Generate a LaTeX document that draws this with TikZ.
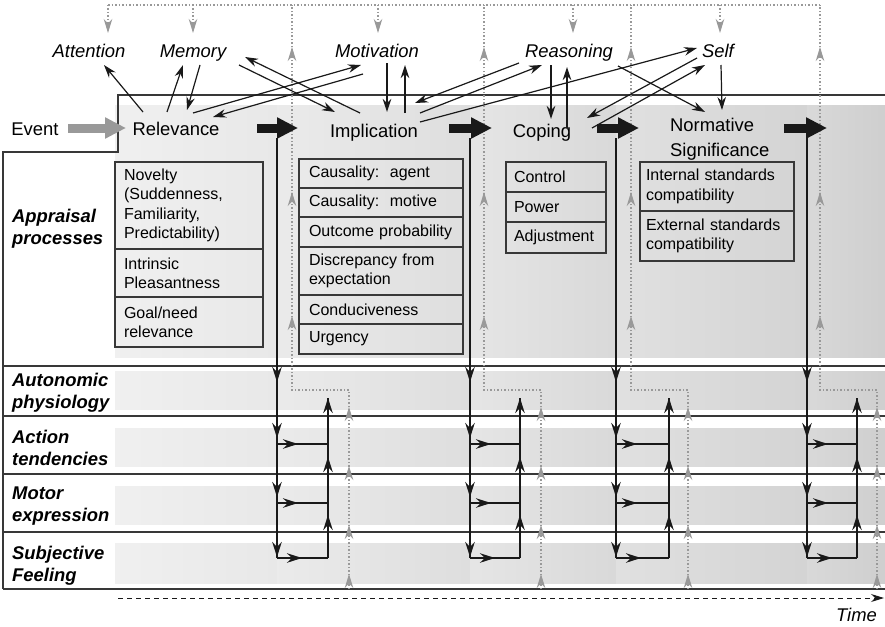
\documentclass[tikz,border=0pt]{standalone}
\usepackage{fontspec}
\setmainfont{Liberation Sans}
\usepackage{tikz}
\usetikzlibrary{arrows.meta, calc, positioning, decorations.markings}
\definecolor{ink}{gray}{0.10}
\definecolor{framec}{gray}{0.22}
\definecolor{fback}{gray}{0.60}
\newcommand\bigfont{\fontsize{18.4}{21.8}\selectfont}
\newcommand\itemfont{\fontsize{16}{19.3}\selectfont}
% shaded strip behind one row, darker phase by phase
\newcommand\greyband[2]{%
  \shade[left color=black!6,  right color=black!9]  (115,#1) rectangle (277,#2);
  \shade[left color=black!8,  right color=black!13] (277,#1) rectangle (470,#2);
  \shade[left color=black!10, right color=black!15] (470,#1) rectangle (616,#2);
  \shade[left color=black!12, right color=black!17] (616,#1) rectangle (807,#2);
  \shade[left color=black!15, right color=black!19] (807,#1) rectangle (885,#2);}
% efferent and feedback wiring below one phase
\newcommand\reaction[4]{%
  \coordinate (#1in)   at (#2,138);
  \coordinate (#1act)  at (#2,444);
  \coordinate (#1mot)  at (#2,503);
  \coordinate (#1sub)  at (#2,558);
  \coordinate (#1ret)  at (#3,398);
  \coordinate (#1ra)   at (#3,444);
  \coordinate (#1rm)   at (#3,503);
  \coordinate (#1rs)   at (#3,558);
  \coordinate (#1fb)   at (#4+57,589);
  \coordinate (#1kn)   at (#4+57,390);
  \coordinate (#1kt)   at (#4,390);
  \coordinate (#1roof) at (#4,5);
  \draw[wire, tipat=244pt, tipat=300pt, tipat=359pt, tipat=419pt] (#1in) -- (#1sub);
  \draw[wire, tipat=43pt, tipat=101pt, tipat=160pt] (#1rs) -- (#1ret);
  \draw[wire, tipat=21pt] (#1act) -- (#1ra);
  \draw[wire, tipat=21pt] (#1mot) -- (#1rm);
  \draw[wire, tipat=25pt] (#1sub) -- (#1rs);
  \draw[feedback, gtipat=15pt, gtipat=64pt, gtipat=123pt, gtipat=182pt,
        gtipat=330pt, gtipat=454pt, gtipat=599pt]
    (#1fb) -- (#1kn) -- (#1kt) -- (#1roof);}
\tikzset{
  wiretip/.tip={Stealth[length=15pt, width=9.5pt]},
  greytip/.tip={Stealth[length=14pt, width=8.5pt]},
  wire/.style={draw=ink, line width=1.5pt},
  feedback/.style={draw=fback, line width=1.2pt, dash pattern=on 1.5pt off 2pt},
  tipat/.style={postaction={decorate, decoration={markings,
    mark=at position #1 with {\arrow{wiretip}}}}},
  gtipat/.style={postaction={decorate, decoration={markings,
    mark=at position #1 with {\arrow{greytip}}}}},
  framel/.style={draw=framec, line width=1.3pt},
  link/.style={draw=ink, line width=1.2pt, -{Stealth[length=13pt, width=8.5pt]}},
  phase/.style={draw=ink, line width=9pt, -{Triangle[length=21pt, width=20pt]}},
  label/.style={inner sep=0pt, anchor=base, font=\bigfont},
  toplbl/.style={label, font=\bigfont\itshape},
  rowlbl/.style={inner sep=0pt, anchor=north west, align=left,
    font=\bigfont\bfseries\itshape},
  item/.style={draw=framec, line width=1.2pt, outer sep=0pt, inner xsep=#1,
    inner ysep=0pt, align=left, font=\itemfont},
  relbox/.style={item=9pt, text width=130pt},
  impbox/.style={item=10pt, text width=144pt},
  copbox/.style={item=8pt, text width=84pt},
  nrmbox/.style={item=6pt, text width=142pt},
}
\begin{document}
\begin{tikzpicture}[x=1pt, y=-1pt]
\useasboundingbox (0,0) rectangle (885,626);
\fill[white] (0,0) rectangle (885,626);
% shaded rows
\greyband{105}{357}
\greyband{371}{409}
\greyband{428}{466}
\greyband{486}{524}
\greyband{543}{583}
% frame and row rules
\draw[framel] (3,589) -- (3,152) -- (118,152) -- (118,95) -- (885,95);
\draw[framel] (3,366) -- (885,366);
\draw[framel] (3,416) -- (885,416);
\draw[framel] (3,474) -- (885,474);
\draw[framel] (3,532) -- (885,532);
\draw[framel] (3,589) -- (885,589);
% row labels
\node[rowlbl] (app) at (12,209) {Appraisal\\processes};
\node[rowlbl] (aut) at (12,373) {Autonomic\\physiology};
\node[rowlbl] (act) at (12,430) {Action\\tendencies};
\node[rowlbl] (mot) at (12,487) {Motor\\expression};
\node[rowlbl] (sub) at (12,546) {Subjective\\Feeling};
% phases
\node[label] (event) at (35,135) {Event};
\node[label] (rel) at (176,135) {Relevance};
\node[label] (impl) at (374,137) {Implication};
\node[label] (cop) at (542,137) {Coping};
\node[inner sep=0pt, anchor=north west, align=left,
      font=\fontsize{18.4}{24.5}\selectfont] (norm) at (670,118) {Normative\\Significance};
% top-level functions
\node[toplbl] (attn) at (89,58) {Attention};
\node[toplbl] (mem) at (193,58) {Memory};
\node[toplbl] (motv) at (377,58) {Motivation};
\node[toplbl] (reas) at (569,58) {Reasoning};
\node[toplbl] (self) at (718,58) {Self};
% appraisal checks
\node[relbox, anchor=north west, minimum height=87pt] (relA) at (115,162)
  {Novelty\\(Suddenness,\\Familiarity,\\Predictability)};
\node[relbox, below=0pt of relA, minimum height=48pt] (relB) {Intrinsic\\Pleasantness};
\node[relbox, below=0pt of relB, minimum height=50pt] (relC) {Goal/need\\relevance};
\node[impbox, anchor=north west, minimum height=29pt] (impA) at (299,159) {Causality:\ \ agent};
\node[impbox, below=0pt of impA, minimum height=29pt] (impB) {Causality:\ \ motive};
\node[impbox, below=0pt of impB, minimum height=30pt] (impC) {Outcome~probability};
\node[impbox, below=0pt of impC, minimum height=48pt] (impD) {Discrepancy from\\expectation};
\node[impbox, below=0pt of impD, minimum height=29pt] (impE) {Conduciveness};
\node[impbox, below=0pt of impE, minimum height=30pt] (impF) {Urgency};
\node[copbox, anchor=north west, minimum height=30pt] (copA) at (506,162) {Control};
\node[copbox, below=0pt of copA, minimum height=30pt] (copB) {Power};
\node[copbox, below=0pt of copB, minimum height=31pt] (copC) {Adjustment};
\node[nrmbox, anchor=north west, minimum height=49pt] (nrmA) at (640,162)
  {Internal standards\\compatibility};
\node[nrmbox, below=0pt of nrmA, minimum height=50pt] (nrmB)
  {External standards\\compatibility};
% component wiring
\reaction{r}{277}{328}{292}
\reaction{i}{470}{520}{484}
\reaction{c}{616}{669}{631}
\reaction{n}{807}{857}{820}
% feedback to the functions
\draw[feedback] ($(attn.base)+(19,-53)$) -- (nroof);
\draw[feedback, -greytip] ($(attn.base)+(19,-53)$) -- ($(attn.base)+(19,-25)$);
\draw[feedback, -greytip] ($(mem.base)+(0,-53)$) -- ($(mem.base)+(0,-25)$);
\draw[feedback, -greytip] ($(motv.base)+(1,-53)$) -- ($(motv.base)+(1,-25)$);
\draw[feedback, -greytip] ($(reas.base)+(4,-53)$) -- ($(reas.base)+(4,-25)$);
\draw[feedback, -greytip] ($(self.base)+(2,-53)$) -- ($(self.base)+(2,-25)$);
% phase arrows
\draw[phase, draw=fback] ($(event.base)+(33,-7)$) -- ($(rel.base)+(-50,-7)$);
\draw[phase] ($(rel.base)+(81,-7)$) -- ($(impl.base)+(-76,-9)$);
\draw[phase] ($(impl.base)+(75,-9)$) -- ($(cop.base)+(-50,-9)$);
\draw[phase] ($(cop.base)+(55,-9)$) -- ($(norm.north west)+(-31,10)$);
\draw[phase] ($(norm.north west)+(114,10)$) -- ($(norm.north west)+(157,10)$);
% links between phases and functions
\draw[link] ($(rel.base)+(-33,-23)$) -- ($(attn.base)+(15,7)$);
\draw[link] ($(rel.base)+(-9,-23)$) -- ($(mem.base)+(-10,7)$);
\draw[link] ($(mem.base)+(7,7)$) -- ($(rel.base)+(11,-25)$);
\draw[link] ($(rel.base)+(17,-22)$) -- ($(motv.base)+(-16,7)$);
\draw[link] ($(motv.base)+(-14,16)$) -- ($(rel.base)+(37,-18)$);
\draw[link] ($(impl.base)+(-14,-24)$) -- ($(mem.base)+(52,-1)$);
\draw[link] ($(mem.base)+(46,7)$) -- ($(impl.base)+(-39,-25)$);
\draw[link] ($(motv.base)+(10,5)$) -- ($(impl.base)+(13,-25)$);
\draw[link] ($(impl.base)+(31,-24)$) -- ($(motv.base)+(28,7)$);
\draw[link] ($(reas.base)+(-50,5)$) -- ($(impl.base)+(41,-34)$);
\draw[link] ($(impl.base)+(46,-24)$) -- ($(reas.base)+(-27,7)$);
\draw[link] ($(impl.base)+(46,-15)$) -- ($(self.base)+(-21,-10)$);
\draw[link] ($(reas.base)+(-18,7)$) -- ($(cop.base)+(9,-18)$);
\draw[link] ($(cop.base)+(25,-9)$) -- ($(reas.base)+(-2,9)$);
\draw[link] ($(self.base)+(-21,0)$) -- ($(cop.base)+(45,-19)$);
\draw[link] ($(cop.base)+(50,-9)$) -- ($(self.base)+(-13,7)$);
\draw[link] ($(reas.base)+(49,8)$) -- ($(norm.north west)+(35,-6)$);
\draw[link] ($(self.base)+(3,7)$) -- ($(norm.north west)+(52,-8)$);
% time axis
\node[toplbl, anchor=base east] (time) at (877,621) {Time};
\coordinate (t0) at (118,598);
\coordinate (t1) at (884,598);
\draw[draw=ink, line width=1pt, dash pattern=on 5pt off 4pt,
      -{Stealth[length=13pt, width=8pt]}] (t0) -- (t1);
\end{tikzpicture}
\end{document}
